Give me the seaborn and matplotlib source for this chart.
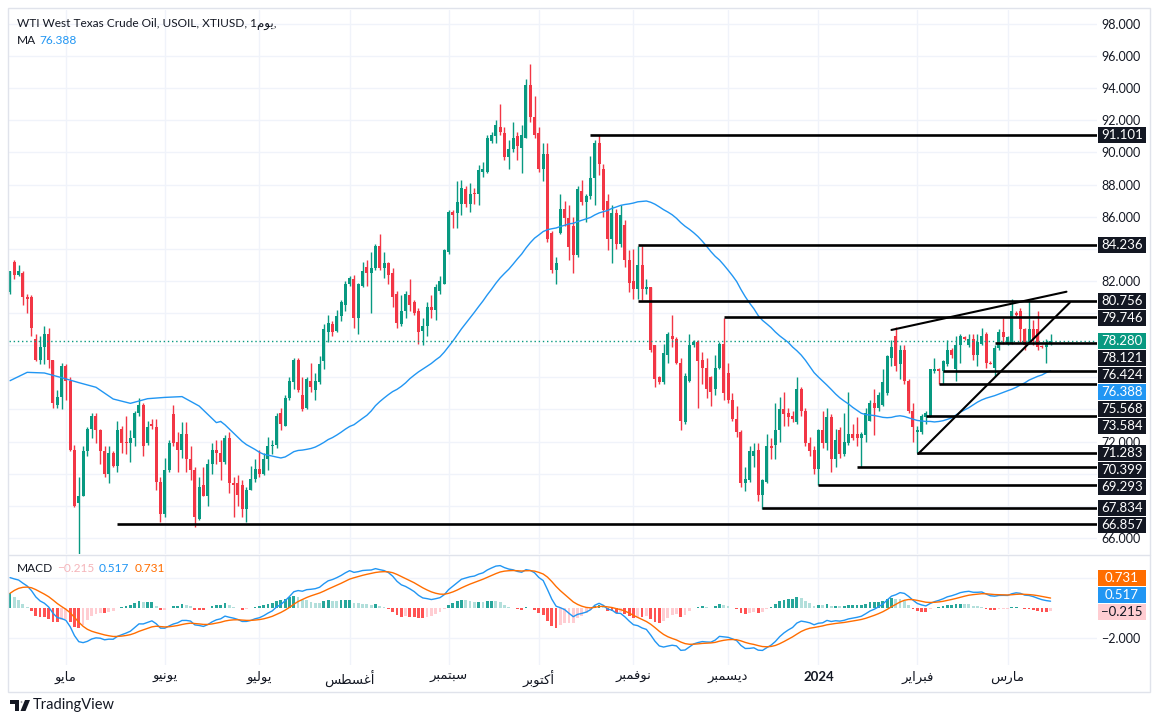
import numpy as np
import pandas as pd
import seaborn as sns
import matplotlib.pyplot as plt
from matplotlib.patches import Rectangle, Polygon, Circle

# Daily candles, USOIL (first bar 2023-04-12)
opens = [
    81.3, 83.2, 82.4, 82.5, 81.0, 81.0, 78.4, 77.1, 77.9, 78.7,
    77.1, 74.3, 74.8, 76.7, 75.8, 71.5, 68.2, 68.6, 71.4, 72.8,
    73.6, 72.7, 71.4, 70.0, 71.3, 70.5, 72.8, 72.0, 71.9, 72.2,
    73.8, 74.3, 71.9, 73.1, 72.9, 69.5, 67.5, 70.2, 73.7, 72.0,
    71.5, 72.5, 70.9, 70.2, 67.2, 69.3, 68.6, 70.6, 71.5, 71.3,
    70.7, 72.2, 69.4, 69.4, 69.3, 67.8, 69.0, 69.7, 70.3, 70.0,
    70.9, 71.7, 71.8, 73.8, 73.0, 74.7, 75.7, 77.1, 74.9, 74.1,
    75.8, 75.2, 75.7, 77.0, 78.8, 79.3, 78.9, 79.8, 80.5, 81.8,
    82.1, 79.7, 81.7, 82.9, 82.5, 82.8, 84.2, 82.8, 83.1, 82.5,
    81.2, 79.3, 80.1, 81.1, 80.7, 80.1, 78.9, 79.2, 80.4, 80.2,
    81.4, 81.8, 83.8, 86.3, 86.2, 86.8, 87.7, 86.8, 87.5, 87.4,
    88.8, 88.8, 90.7, 91.0, 91.6, 91.2, 89.7, 90.2, 91.0, 90.3,
    90.9, 94.2, 92.2, 91.2, 89.0, 89.9, 85.0, 82.7, 85.0, 86.5,
    85.9, 85.4, 83.6, 87.6, 86.9, 87.3, 88.4, 90.6, 89.0, 87.0,
    84.6, 86.2, 84.3, 85.5, 83.3, 82.0, 81.5, 83.0, 81.5, 81.6,
    78.0, 76.0, 75.7, 77.4, 78.6, 78.4, 76.9, 73.2, 75.8, 78.0,
    78.2, 77.1, 76.6, 76.0, 75.3, 76.6, 78.1, 76.3, 74.6, 73.4,
    72.6, 69.4, 69.6, 71.1, 71.5, 68.7, 69.5, 71.7, 71.8, 72.7,
    74.0, 73.8, 73.6, 73.2, 75.3, 73.9, 71.9, 71.5, 70.3, 72.7,
    71.9, 73.5, 70.9, 72.7, 71.2, 71.9, 72.5, 72.5, 72.2, 72.4,
    73.3, 74.4, 74.1, 74.3, 75.0, 77.2, 78.6, 76.8, 77.7, 75.8,
    73.9, 72.6, 72.6, 73.5, 73.6, 76.4, 76.5, 76.4, 76.8, 77.7,
    76.5, 78.0, 78.5, 78.0, 78.4, 77.4, 78.1, 78.7, 76.9, 76.6,
    77.8, 78.8, 78.1, 78.1, 80.0, 80.1, 79.0, 78.1, 79.0, 79.0,
    77.95, 77.86, 78.12,
]
highs = [
    82.6, 83.3, 83.0, 82.6, 81.2, 81.1, 78.7, 78.6, 79.2, 79.1,
    77.1, 75.2, 76.9, 76.8, 76.0, 71.8, 69.8, 71.7, 72.9, 73.8,
    73.8, 72.8, 71.7, 71.7, 71.4, 73.3, 73.0, 73.6, 72.7, 73.9,
    74.7, 74.4, 73.3, 73.4, 73.4, 69.8, 71.0, 72.1, 74.3, 72.6,
    73.2, 73.2, 71.7, 70.4, 69.8, 70.4, 70.9, 71.9, 72.1, 72.1,
    72.4, 72.6, 69.8, 69.9, 69.6, 69.2, 70.5, 70.9, 71.5, 71.3,
    72.3, 72.1, 73.8, 74.1, 74.9, 76.0, 77.2, 77.2, 76.0, 76.0,
    76.9, 76.3, 77.3, 79.3, 79.9, 79.5, 80.2, 80.8, 82.0, 82.3,
    82.4, 81.9, 83.2, 83.3, 83.8, 84.3, 84.9, 83.8, 83.2, 82.8,
    81.4, 81.1, 81.4, 82.1, 80.8, 80.3, 79.7, 80.7, 81.1, 81.8,
    82.3, 84.0, 86.4, 86.4, 88.2, 88.3, 87.9, 88.1, 87.8, 89.2,
    89.4, 91.1, 91.3, 92.0, 93.0, 91.6, 90.8, 91.9, 91.3, 91.7,
    94.6, 95.5, 93.5, 91.6, 90.6, 90.6, 85.1, 83.5, 87.4, 87.0,
    86.7, 86.0, 87.9, 88.3, 87.4, 89.8, 90.8, 91.1, 89.3, 87.4,
    86.7, 86.5, 86.7, 85.8, 83.9, 84.0, 84.2, 84.2, 82.1, 81.6,
    78.0, 76.1, 78.1, 78.8, 79.9, 78.5, 77.2, 76.3, 78.7, 78.3,
    78.3, 77.6, 77.2, 76.1, 77.4, 78.2, 79.7, 76.9, 75.0, 74.2,
    72.7, 70.4, 71.7, 71.9, 71.9, 69.7, 72.5, 72.2, 74.4, 74.8,
    75.1, 74.1, 73.9, 76.0, 75.4, 74.1, 72.3, 71.7, 72.8, 73.9,
    74.1, 73.7, 72.8, 72.9, 73.8, 75.1, 73.1, 73.5, 72.6, 74.1,
    74.6, 75.3, 75.1, 76.5, 77.4, 78.3, 79.15, 78.0, 78.0, 75.9,
    74.4, 73.0, 73.7, 73.9, 76.5, 77.2, 76.6, 77.1, 78.3, 77.8,
    78.6, 78.7, 78.6, 78.7, 78.7, 78.7, 79.1, 78.8, 77.0, 78.0,
    79.0, 79.7, 78.6, 80.9, 80.1, 80.3, 79.05, 80.8, 79.6, 80.1,
    78.0, 78.4, 78.7,
]
lows = [
    81.2, 82.1, 82.3, 80.5, 80.0, 78.6, 77.0, 76.8, 76.8, 76.6,
    74.1, 74.1, 74.0, 74.6, 71.4, 67.9, 65.0, 68.6, 71.1, 72.2,
    71.9, 70.6, 69.8, 69.4, 70.4, 70.1, 71.3, 71.2, 70.7, 71.7,
    73.6, 71.1, 71.8, 72.8, 69.0, 67.0, 67.3, 70.1, 71.7, 70.1,
    71.0, 70.1, 69.6, 66.7, 67.1, 68.6, 68.0, 70.0, 70.6, 69.6,
    70.6, 68.8, 67.3, 68.0, 67.3, 67.0, 69.0, 69.5, 69.8, 69.9,
    70.2, 71.2, 71.6, 72.7, 73.0, 74.6, 75.3, 75.1, 73.9, 74.0,
    75.1, 74.6, 75.6, 76.5, 78.2, 78.6, 78.8, 79.5, 80.1, 81.7,
    79.1, 78.7, 81.6, 81.7, 80.0, 82.7, 82.7, 82.2, 81.8, 80.4,
    79.1, 79.2, 79.7, 80.1, 79.9, 78.1, 78.0, 78.6, 79.7, 79.6,
    81.2, 81.8, 83.7, 85.3, 85.3, 86.1, 86.6, 86.3, 86.8, 86.7,
    88.5, 88.7, 90.6, 90.6, 91.1, 89.5, 89.0, 90.0, 89.5, 88.7,
    90.9, 91.9, 90.9, 88.8, 88.2, 84.4, 82.5, 81.8, 84.9, 85.4,
    83.3, 82.5, 83.5, 86.7, 85.7, 87.1, 86.7, 88.6, 86.0, 83.9,
    83.1, 84.0, 84.1, 82.9, 81.3, 80.9, 80.9, 80.8, 81.2, 77.6,
    75.4, 75.6, 75.6, 76.9, 77.9, 76.8, 72.7, 73.1, 75.7, 77.9,
    74.1, 75.6, 74.7, 74.2, 74.9, 76.5, 74.6, 74.4, 73.3, 72.3,
    69.2, 68.9, 69.5, 70.4, 68.3, 67.83, 69.4, 70.9, 70.9, 72.0,
    73.0, 73.0, 73.2, 73.1, 73.6, 71.7, 71.1, 70.0, 69.29, 71.6,
    71.5, 70.1, 70.4, 71.0, 71.1, 71.8, 72.1, 71.7, 70.4, 72.0,
    73.3, 72.4, 73.9, 74.2, 74.9, 76.7, 76.4, 75.9, 75.6, 73.8,
    72.0, 71.28, 72.5, 73.1, 73.5, 76.3, 75.57, 75.6, 76.7, 77.2,
    75.8, 76.9, 78.3, 77.9, 77.1, 76.7, 78.0, 76.6, 76.8, 76.1,
    77.7, 78.1, 78.0, 78.1, 79.8, 78.2, 77.7, 78.1, 78.0, 77.7,
    77.8, 76.9, 78.0,
]
closes = [
    82.6, 82.4, 82.6, 81.0, 80.9, 79.1, 77.1, 77.9, 78.7, 77.1,
    74.4, 74.8, 76.7, 75.8, 71.5, 68.0, 68.6, 71.4, 72.8, 73.6,
    72.7, 71.4, 70.0, 71.3, 70.5, 72.7, 71.9, 71.9, 72.2, 73.8,
    74.3, 71.7, 72.9, 73.0, 69.5, 67.5, 70.2, 71.9, 71.9, 71.5,
    72.5, 70.9, 70.2, 67.3, 69.2, 68.6, 70.6, 71.5, 71.3, 70.7,
    72.2, 69.4, 69.3, 68.7, 67.8, 69.0, 69.7, 70.3, 70.0, 70.9,
    71.7, 71.8, 73.6, 73.1, 74.7, 75.8, 77.1, 75.2, 74.0, 75.9,
    75.4, 75.8, 76.8, 79.0, 79.4, 78.8, 79.8, 80.7, 81.8, 82.2,
    79.7, 81.8, 82.6, 82.5, 82.8, 84.2, 82.8, 83.1, 82.4, 81.0,
    79.4, 80.1, 81.2, 80.5, 80.0, 78.8, 79.2, 80.4, 80.2, 81.6,
    82.0, 83.9, 86.3, 86.1, 86.9, 87.8, 86.8, 87.4, 87.4, 88.9,
    89.0, 90.9, 91.1, 91.7, 91.3, 89.7, 90.2, 90.9, 90.4, 91.1,
    94.2, 92.2, 91.1, 89.0, 89.9, 84.6, 82.7, 83.1, 86.5, 85.9,
    84.1, 83.6, 87.7, 86.9, 87.3, 88.4, 90.6, 89.3, 86.4, 84.6,
    86.2, 84.3, 86.1, 83.3, 81.9, 81.5, 83.0, 81.5, 81.6, 77.7,
    75.9, 75.7, 77.5, 78.7, 78.4, 76.9, 73.3, 76.1, 78.0, 78.2,
    77.0, 76.6, 75.3, 75.1, 76.6, 78.1, 75.0, 74.6, 73.4, 72.6,
    69.4, 69.7, 71.4, 71.4, 68.7, 69.6, 71.7, 71.6, 72.7, 74.0,
    73.7, 73.5, 73.4, 75.3, 73.9, 71.9, 71.4, 70.3, 72.7, 71.9,
    73.5, 70.9, 72.1, 71.2, 72.0, 72.5, 72.2, 72.2, 72.5, 73.8,
    74.4, 74.1, 74.9, 75.7, 77.3, 77.9, 76.7, 77.7, 75.8, 73.9,
    72.9, 72.7, 73.6, 73.8, 76.5, 76.5, 76.4, 77.0, 77.7, 77.4,
    78.0, 78.6, 78.4, 78.4, 77.4, 78.2, 78.6, 76.9, 76.85, 77.8,
    78.8, 78.5, 78.5, 80.1, 79.9, 79.0, 78.0, 79.0, 78.4, 77.9,
    77.86, 78.12, 78.28,
]

# MA(50) before enough bars exist
ma_head_idx = [0, 4, 8, 12, 16, 20, 24, 28, 32, 36, 40, 44, 48]
ma_head_val = [75.79, 76.31, 76.27, 75.98, 75.67, 75.38, 74.65, 74.38, 74.67, 74.75, 74.80, 74.21, 73.18]

# MACD / signal at the first bar, ema12 a bit under the close
macd_start = 2.05
signal_start = 1.0
ema12_gap = 1.0

# drawn horizontal rays: level and first bar
levels = [91.101, 84.236, 80.756, 79.746, 78.121, 76.424, 75.568, 73.584, 71.283, 70.399, 69.293, 67.834, 66.857]
level_start = [135, 146, 146, 166, 229, 217, 216, 213, 211, 197, 188, 175, 25]

# trend lines (bar index, price)
upper_x, upper_y = [205.0, 245.7], [78.95, 81.33]
lower_x, lower_y = [211.2, 246.5], [71.23, 80.66]

month_names = {1: '2024', 2: 'فبراير', 3: 'مارس', 5: 'مايو', 6: 'يونيو', 7: 'يوليو',
               8: 'أغسطس', 9: 'سبتمبر', 10: 'أكتوبر', 11: 'نوفمبر', 12: 'ديسمبر'}

last_price = 78.280
ma_last = 76.388
macd_legend = ['\u22120.215', '0.517', '0.731']
macd_tags = [(-0.215, '\u22120.215'), (0.517, '0.517'), (0.731, '0.731')]

GREEN = '#089981'
RED = '#F23645'
BLUE = '#2196F3'
ORANGE = '#FF6D00'
DARK = '#131722'
GRID = '#f0f3fa'

# arabic shaping (matplotlib has no shaping / bidi)
FORMS = {
    'ا': ('\uFE8D', '\uFE8E', None, None), 'أ': ('\uFE83', '\uFE84', None, None),
    'ب': ('\uFE8F', '\uFE90', '\uFE91', '\uFE92'), 'ت': ('\uFE95', '\uFE96', '\uFE97', '\uFE98'),
    'د': ('\uFEA9', '\uFEAA', None, None), 'ر': ('\uFEAD', '\uFEAE', None, None),
    'س': ('\uFEB1', '\uFEB2', '\uFEB3', '\uFEB4'), 'ط': ('\uFEC1', '\uFEC2', '\uFEC3', '\uFEC4'),
    'غ': ('\uFECD', '\uFECE', '\uFECF', '\uFED0'), 'ف': ('\uFED1', '\uFED2', '\uFED3', '\uFED4'),
    'ك': ('\uFED9', '\uFEDA', '\uFEDB', '\uFEDC'), 'ل': ('\uFEDD', '\uFEDE', '\uFEDF', '\uFEE0'),
    'م': ('\uFEE1', '\uFEE2', '\uFEE3', '\uFEE4'), 'ن': ('\uFEE5', '\uFEE6', '\uFEE7', '\uFEE8'),
    'و': ('\uFEED', '\uFEEE', None, None), 'ي': ('\uFEF1', '\uFEF2', '\uFEF3', '\uFEF4'),
}


def shape(word):
    if word[0] not in FORMS:
        return word
    out = []
    for k, ch in enumerate(word):
        iso, fin, ini, med = FORMS[ch]
        jp = k > 0 and FORMS[word[k - 1]][2] is not None
        jn = k < len(word) - 1 and ini is not None
        out.append(med if (jp and jn) else fin if jp else ini if jn else iso)
    return ''.join(reversed(out))


def ema(values, span, seed):
    a = 2 / (span + 1)
    out = [seed]
    for v in values[1:]:
        out.append(a * v + (1 - a) * out[-1])
    return np.array(out)


sns.set_theme(style='white')
plt.rcParams['font.family'] = ['Lato', 'DejaVu Sans']

W, H = 1162, 723
fig = plt.figure(figsize=(W / 100, H / 100), dpi=100)
fig.patch.set_facecolor('white')


def fx(px):
    return px / W


def fy(py):
    return 1 - py / H


ax = fig.add_axes([fx(9), fy(554), fx(1097) - fx(9), fy(10) - fy(554)])
axm = fig.add_axes([fx(9), fy(665), fx(1097) - fx(9), fy(556) - fy(665)], sharex=ax)

df = pd.DataFrame({'open': opens, 'high': highs, 'low': lows, 'close': closes})
df['i'] = np.arange(len(df))
df['date'] = pd.bdate_range('2023-04-12', periods=len(df))
df['sma'] = df['close'].rolling(50).mean()

up = df['close'] >= df['open']
cols = np.where(up, GREEN, RED)
ax.vlines(df['i'], df['low'], df['high'], colors=cols, lw=1, zorder=3)
body = np.maximum((df['close'] - df['open']).abs(), 0.07)
ax.bar(df['i'], body, bottom=np.minimum(df['open'], df['close']), width=0.7,
       color=cols, linewidth=0, zorder=3.5)

# moving average
sns.lineplot(data=df.dropna(), x='i', y='sma', ax=ax, color=BLUE, linewidth=1, zorder=4)
head = pd.DataFrame({'i': ma_head_idx + [49], 'sma': ma_head_val + [df['sma'][49]]})
sns.lineplot(data=head, x='i', y='sma', ax=ax, color=BLUE, linewidth=1, zorder=4)

xl, xr = -0.23, 252.8
ax.axhline(last_price, color=GREEN, lw=1, ls=(0, (1, 2)), zorder=4)
ax.hlines(levels, level_start, xr, colors='black', lw=1.9, zorder=6)
ax.plot(upper_x, upper_y, color='black', lw=1.5, zorder=6)
ax.plot(lower_x, lower_y, color='black', lw=1.5, zorder=6)

# MACD 12 26 9
c = df['close'].values
e12 = ema(c, 12, c[0] - ema12_gap)
e26 = ema(c, 26, c[0] - ema12_gap - macd_start)
df['macd'] = e12 - e26
df['signal'] = ema(df['macd'].values, 9, signal_start)
df['hist'] = df['macd'] - df['signal']
prev = df['hist'].shift(1).fillna(df['hist'][0])
hcol = np.where(df['hist'] >= 0,
                np.where(df['hist'] >= prev, '#26A69A', '#B2DFDB'),
                np.where(df['hist'] < prev, '#FF5252', '#FFCDD2'))
axm.bar(df['i'], df['hist'], width=0.65, color=hcol, linewidth=0, zorder=2)
sns.lineplot(data=df, x='i', y='macd', ax=axm, color=BLUE, linewidth=1, zorder=3)
sns.lineplot(data=df, x='i', y='signal', ax=axm, color=ORANGE, linewidth=1, zorder=3)

# month ticks
first = df.groupby(df['date'].dt.to_period('M'))['i'].min()
first = first[first > 0]
mticks = list(first.values)
mlabels = [shape(month_names[p.month]) for p in first.index]

for a in (ax, axm):
    a.set_xlim(xl, xr)
    a.set_xlabel('')
    a.set_ylabel('')
    for s in a.spines.values():
        s.set_visible(False)
    a.set_axisbelow(True)
    a.set_xticks(mticks)
    a.grid(True, color=GRID, lw=1)
    a.yaxis.tick_right()
    a.tick_params(axis='both', length=0, labelsize=9, labelcolor=DARK)
    a.tick_params(axis='y', pad=3)

ax.set_ylim(65.0, 98.87)
ax.tick_params(labelbottom=False)
axm.set_ylim(-3.78, 3.49)
axm.set_xticklabels(mlabels, fontsize=9.5)
axm.tick_params(axis='x', pad=4)
for t, p in zip(axm.get_xticklabels(), first.index):
    if p.month == 1:
        t.set_fontweight('bold')

# pane separator and outer frame
fig.add_artist(plt.Line2D([fx(9), fx(1150)], [fy(555), fy(555)], color='#e0e3eb', lw=1))
fig.add_artist(Rectangle((fx(8), fy(692)), fx(1150) - fx(8), fy(8) - fy(692),
                         transform=fig.transFigure, fill=False, edgecolor='#e0e3eb', lw=1))


def tag(y, text, bg, fg):
    h = 16
    fig.add_artist(Rectangle((1098 / W, (y - h / 2) / H), 48 / W, h / H, transform=fig.transFigure,
                             facecolor=bg, edgecolor='none', zorder=5))
    fig.text(1122 / W, y / H, text, ha='center', va='center', color=fg, fontsize=9.5, zorder=6)


# price tags pushed apart like the price scale does
items = [(v, f'{v:.3f}', DARK, 'white') for v in levels]
items += [(last_price, f'{last_price:.3f}', GREEN, 'white'), (ma_last, f'{ma_last:.3f}', BLUE, 'white')]
items.sort(key=lambda t: -t[0])
tag_ys = []
for v, txt, bg, fg in items:
    y = ax.transData.transform((0, v))[1]
    if tag_ys:
        y = min(y, tag_ys[-1] - 17)
    tag(y, txt, bg, fg)
    tag_ys.append(y)

mstyle = {'\u22120.215': ('#FFCDD2', DARK), '0.517': (BLUE, 'white'), '0.731': (ORANGE, 'white')}
mtag_ys = []
for v, txt in sorted(macd_tags):
    y = axm.transData.transform((0, v))[1]
    if mtag_ys:
        y = max(y, mtag_ys[-1] + 17)
    tag(y, txt, *mstyle[txt])
    mtag_ys.append(y)


# scale labels that the tags hide are left out
def scale_labels(a, ticks, ys, fmt):
    labs = []
    for v in ticks:
        yd = a.transData.transform((0, v))[1]
        labs.append('' if any(abs(yd - t) < 10 for t in ys) else fmt(v))
    a.set_yticks(ticks)
    a.set_yticklabels(labs)


scale_labels(ax, list(np.arange(66, 99, 2)), tag_ys, lambda v: f'{v:.3f}')
scale_labels(axm, [2, -2], mtag_ys, lambda v: f'{v:.3f}'.replace('-', '\u2212'))

# legends
fig.text(fx(17), fy(24), 'WTI West Texas Crude Oil, USOIL, XTIUSD, 1' + shape('يوم') + ',',
         fontsize=8.6, color=DARK, va='center')
fig.text(fx(17), fy(41), 'MA', fontsize=8.6, color=DARK, va='center')
fig.text(fx(39), fy(41), f'{ma_last:.3f}', fontsize=8.6, color=BLUE, va='center')
fig.text(fx(17), fy(569), 'MACD', fontsize=8.6, color=DARK, va='center')
fig.text(fx(57), fy(569), macd_legend[0], fontsize=8.6, color='#f5b5ba', va='center')
fig.text(fx(99), fy(569), macd_legend[1], fontsize=8.6, color=BLUE, va='center')
fig.text(fx(135), fy(569), macd_legend[2], fontsize=8.6, color=ORANGE, va='center')

# TradingView logo
fig.add_artist(Polygon([(fx(10), fy(700)), (fx(19), fy(700)), (fx(19), fy(711)), (fx(15), fy(711)),
                        (fx(15), fy(704)), (fx(10), fy(704))], closed=True, transform=fig.transFigure,
                       facecolor=DARK, edgecolor='none'))
fig.add_artist(Circle((fx(21.5), fy(702)), 1.8 / W, transform=fig.transFigure, facecolor=DARK))
fig.add_artist(Polygon([(fx(25), fy(700)), (fx(30), fy(700)), (fx(25.5), fy(711)), (fx(20.5), fy(711))],
                       closed=True, transform=fig.transFigure, facecolor=DARK, edgecolor='none'))
fig.text(fx(33), fy(705), 'TradingView', fontsize=10.5, color=DARK, va='center')

fig.savefig('out.png', dpi=100)
